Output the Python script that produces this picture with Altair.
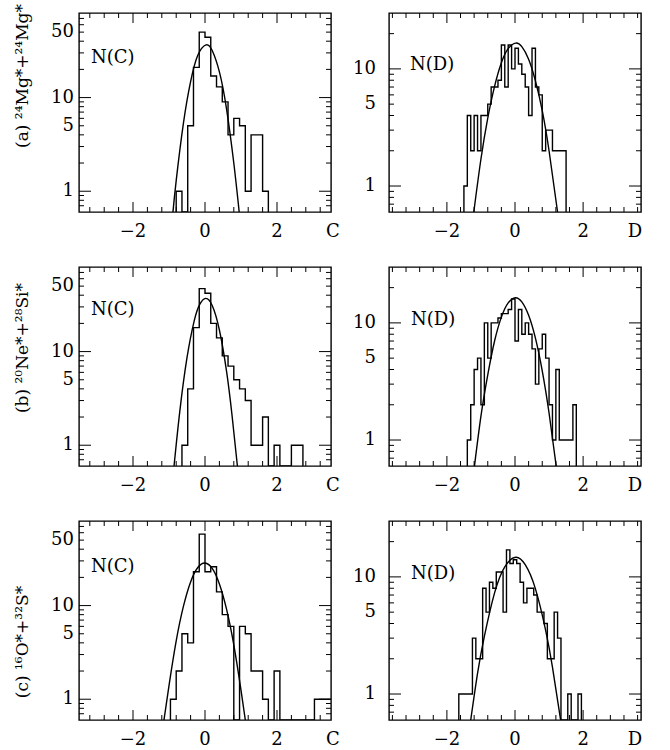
import altair as alt
import pandas as pd

FONT = "DejaVu Serif"
W, H = 252, 199

# ---------------- axis settings ----------------
C_DOMAIN = [-3.5, 3.5]
D_DOMAIN = [-3.7, 3.7]
X_LABELS = [-2, 0, 2]
X_LABEL_TEXT = ["\u22122", "0", "2"]
X_MAJOR = [-2, 0, 2]
C_MINOR = [-3.2, -2.8, -2.4, -1.6, -1.2, -0.8, -0.4, 0.4, 0.8, 1.2, 1.6, 2.4, 2.8, 3.2]
D_MINOR = [-3.6, -3.2, -2.8, -2.4, -1.6, -1.2, -0.8, -0.4, 0.4, 0.8, 1.2, 1.6, 2.4, 2.8, 3.2, 3.6]
C_YDOMAIN = [0.6, 80]
D_YDOMAIN = [0.6, 30]
C_YLABELS = [1, 5, 10, 50]
D_YLABELS = [1, 5, 10]
Y_MAJOR = [1, 10]
C_YMINOR = [0.7, 0.8, 0.9, 2, 3, 4, 5, 6, 7, 8, 9, 20, 30, 40, 50, 60, 70]
D_YMINOR = [0.7, 0.8, 0.9, 2, 3, 4, 5, 6, 7, 8, 9, 20]

ROW_TITLES = ["(a)  \u00b2\u2074Mg*+\u00b2\u2074Mg*",
              "(b)  \u00b2\u2070Ne*+\u00b2\u2078Si*",
              "(c)  \u00b9\u2076O*+\u00b3\u00b2S*"]

# ---------------- histogram data (counts per bin) ----------------
C_BIN = 0.16
D_BIN = 0.10

a_c_start = -0.80
a_c_counts = [1, 0, 5, 21, 50, 44, 17, 13, 9, 4, 6, 5, 1, 4, 4, 1]
b_c_start = -0.64
b_c_counts = [1, 4, 18, 47, 42, 20, 14, 9, 7, 5, 4, 3, 1, 1, 2, 0, 1, 0, 0, 1, 1]
c_c_start = -0.96
c_c_counts = [1, 2, 5, 4, 23, 58, 23, 26, 14, 8, 6, 0, 6, 5, 2, 2, 1, 0, 2,
              0, 0, 0, 0, 0, 0, 1, 1, 1]

a_d_start = -1.50
a_d_counts = [1, 4, 2, 4, 2, 4, 4, 5, 7, 7, 8, 16, 7, 16, 10, 15, 11, 9, 7, 4,
              15, 7, 6, 2, 3, 3, 2, 2, 2, 2]
b_d_start = -1.40
b_d_counts = [1, 2, 4, 5, 2, 10, 5, 10, 10, 11, 12, 12, 13, 16, 7, 13, 8, 10, 8, 6,
              3, 6, 8, 5, 2, 1, 4, 1, 1, 1, 1, 2]
c_d_start = -1.65
c_d_counts = [1, 1, 1, 1, 3, 2, 2, 8, 5, 9, 8, 11, 11, 5, 17, 13, 14, 13, 9, 6,
              8, 8, 7, 5, 5, 4, 2, 2, 5, 3, 0, 0, 1, 0, 0, 1]

# ---------------- fitted curves ----------------
a_c_curve_x = [-0.89, -0.8, -0.6, -0.4, -0.2, 0.03, 0.2, 0.4, 0.6, 0.8, 0.95]
a_c_curve_y = [0.6, 1.3, 5.3, 14.8, 28.3, 36.6, 31.8, 18.8, 7.5, 2.0, 0.6]
b_c_curve_x = [-0.86, -0.7, -0.5, -0.3, -0.15, 0.02, 0.2, 0.4, 0.6, 0.75, 0.9]
b_c_curve_y = [0.6, 2.3, 8.6, 21.3, 31.7, 37.0, 31.1, 17.0, 6.1, 2.1, 0.6]
c_c_curve_x = [-1.14, -1.0, -0.8, -0.6, -0.4, -0.2, 0.0, 0.2, 0.4, 0.6, 0.8, 1.0, 1.12]
c_c_curve_y = [0.6, 1.4, 4.2, 9.8, 17.9, 25.5, 28.5, 24.9, 17.0, 9.1, 3.8, 1.25, 0.6]

a_d_curve_x = [-1.21, -1.0, -0.8, -0.6, -0.4, -0.2, 0.02, 0.2, 0.4, 0.6, 0.8, 1.0, 1.25]
a_d_curve_y = [0.6, 1.7, 3.8, 7.1, 11.3, 14.9, 16.6, 15.5, 12.1, 7.9, 4.4, 2.0, 0.6]
b_d_curve_x = [-1.19, -1.0, -0.8, -0.6, -0.4, -0.2, 0.01, 0.2, 0.4, 0.6, 0.8, 1.0, 1.21]
b_d_curve_y = [0.6, 1.6, 3.6, 7.0, 11.2, 14.8, 16.4, 15.1, 11.6, 7.4, 3.9, 1.7, 0.6]
c_d_curve_x = [-1.3, -1.1, -0.9, -0.6, -0.3, 0.02, 0.3, 0.6, 0.9, 1.1, 1.34]
c_d_curve_y = [0.6, 1.5, 3.1, 7.3, 12.2, 14.7, 12.7, 7.9, 3.5, 1.7, 0.6]

# ---------------- per-row placement ----------------
TITLE_Y = [63, 81, 121]
NC_POS = [(12, 50), (12, 48), (12, 51)]
ND_POS = [(21, 57), (22, 58), (22, 58)]

LW = 1.4
FLOOR = 0.3  # empty bins drawn on the bottom frame (scale is clamped)


def hist_frame(start, width, counts):
    n = len(counts)
    edges = [round(start + k * width, 4) for k in range(n + 1)]
    xs = [edges[0]] + edges[:n] + [edges[n]]
    ys = [FLOOR] + [c if c > 0 else FLOOR for c in counts] + [FLOOR]
    return pd.DataFrame({"x": xs, "y": ys, "i": list(range(n + 2))})


def txt(text, **mk):
    base = dict(font=FONT, fontSize=18, color="black")
    base.update(mk)
    return alt.Chart(pd.DataFrame({"t": [text]})).mark_text(**base)


def panel(kind, row, start, counts, cx, cy):
    if kind == "C":
        xdom, ydom, xminor, yminor, ylabels = C_DOMAIN, C_YDOMAIN, C_MINOR, C_YMINOR, C_YLABELS
        binw, name, name_x, lab_x = C_BIN, "C", W + 2, -5
        tx, ty = NC_POS[row]
    else:
        xdom, ydom, xminor, yminor, ylabels = D_DOMAIN, D_YDOMAIN, D_MINOR, D_YMINOR, D_YLABELS
        binw, name, name_x, lab_x = D_BIN, "D", W - 6, -13
        tx, ty = ND_POS[row]

    xs = alt.Scale(domain=xdom, nice=False, zero=False)
    ys = alt.Scale(type="log", domain=ydom, nice=False, clamp=True)

    def X(f):
        return alt.X(f + ":Q", scale=xs, axis=None)

    def Y(f):
        return alt.Y(f + ":Q", scale=ys, axis=None)

    hist = alt.Chart(hist_frame(start, binw, counts)).mark_line(
        interpolate="step-after", color="black", strokeWidth=LW, clip=True
    ).encode(x=X("x"), y=Y("y"), order=alt.Order("i:Q"))

    curve = alt.Chart(pd.DataFrame({"x": cx, "y": cy})).mark_line(
        interpolate="natural", color="black", strokeWidth=LW, clip=True
    ).encode(x=X("x"), y=Y("y"))

    layers = [hist, curve]

    # inward ticks on all four sides
    for vals, ln in ((X_MAJOR, 10), (xminor, 5)):
        d = pd.DataFrame({"v": vals})
        for yc in (H - ln / 2, ln / 2):
            layers.append(alt.Chart(d).mark_tick(
                orient="vertical", color="black", size=ln, thickness=1, opacity=1
            ).encode(x=X("v"), y=alt.value(yc)))
    for vals, ln in ((Y_MAJOR, 12), (yminor, 5)):
        d = pd.DataFrame({"v": vals})
        for xc in (ln / 2, W - ln / 2):
            layers.append(alt.Chart(d).mark_tick(
                orient="horizontal", color="black", size=ln, thickness=1, opacity=1
            ).encode(y=Y("v"), x=alt.value(xc)))

    # N(C) / N(D) label inside the frame
    layers.append(txt("N(%s)" % name, align="left", baseline="alphabetic").encode(
        x=alt.value(tx), y=alt.value(ty), text="t:N"))

    # x tick labels and axis name
    layers.append(alt.Chart(pd.DataFrame({"x": X_LABELS, "t": X_LABEL_TEXT})).mark_text(
        font=FONT, fontSize=18, color="black", align="center", baseline="middle"
    ).encode(x=X("x"), y=alt.value(H + 20), text="t:N"))
    layers.append(txt(name, align="center", baseline="middle").encode(
        x=alt.value(name_x), y=alt.value(H + 20), text="t:N"))

    # y tick labels
    layers.append(alt.Chart(pd.DataFrame({"y": ylabels, "t": [str(v) for v in ylabels]})).mark_text(
        font=FONT, fontSize=18, color="black", align="right", baseline="middle"
    ).encode(y=Y("y"), x=alt.value(lab_x), text="t:N"))

    # row title (left column only)
    if kind == "C":
        layers.append(txt(ROW_TITLES[row], fontSize=17, angle=270,
                          align="center", baseline="alphabetic").encode(
            x=alt.value(-51), y=alt.value(TITLE_Y[row]), text="t:N"))

    return alt.layer(*layers).properties(width=W, height=H)


panels = []
specs = [
    ((a_c_start, a_c_counts, a_c_curve_x, a_c_curve_y), (a_d_start, a_d_counts, a_d_curve_x, a_d_curve_y)),
    ((b_c_start, b_c_counts, b_c_curve_x, b_c_curve_y), (b_d_start, b_d_counts, b_d_curve_x, b_d_curve_y)),
    ((c_c_start, c_c_counts, c_c_curve_x, c_c_curve_y), (c_d_start, c_d_counts, c_d_curve_x, c_d_curve_y)),
]
for r, (cs, ds) in enumerate(specs):
    panels.append(panel("C", r, *cs))
    panels.append(panel("D", r, *ds))

chart = alt.concat(*panels, columns=2, spacing=alt.RowColnumber(row=55, column=58),
                   bounds="flush").properties(
    padding={"left": 13, "top": 0, "right": 5, "bottom": 5},
    background="white",
).configure_view(stroke="black", strokeWidth=1.4)

chart.save("out.html", embed_options={"renderer": "svg", "actions": False})
